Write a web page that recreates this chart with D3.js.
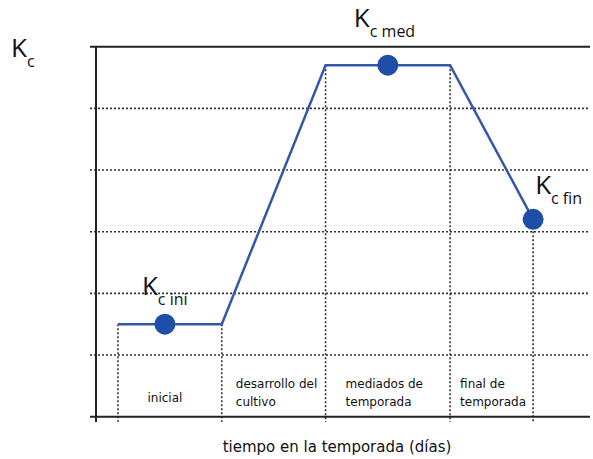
<!DOCTYPE html>
<html>
<head>
<meta charset="utf-8">
<script src="https://cdn.jsdelivr.net/npm/d3@7"></script>
<style>
  html, body { margin: 0; padding: 0; background: #fff; }
  svg { display: block; }
</style>
</head>
<body>
<svg id="chart" width="593" height="459"></svg>
<script>
// ---- data ----
const stageDays = [0, 25, 50, 80, 100];
const stageLabels = [["inicial"], ["desarrollo del", "cultivo"], ["mediados de", "temporada"], ["final de", "temporada"]];
const curveDays = [0, 25, 50, 80, 100];
const curveKc = [0.30, 0.30, 1.14, 1.14, 0.64];
const pointDays = [11.3, 65, 100];
const pointKc = [0.30, 1.14, 0.64];
const pointSub = ["c ini", "c med", "c fin"];
const yTicks = [0, 0.2, 0.4, 0.6, 0.8, 1.0, 1.2];
const yLabel = "K";
const ySub = "c";
const xTitle = "tiempo en la temporada (días)";

// ---- layout ----
const svg = d3.select("#chart");
const x = d3.scaleLinear().domain([-5.3, 113.7]).range([96, 590]);
const y = d3.scaleLinear().domain([0, 1.2]).range([416.7, 46.7]);
const lineColor = "#3457a8";
const dotColor = "#1f4ea9";
const gridColor = "#333";
const bodyFont = "'DejaVu Sans', Verdana, sans-serif";
const kFont = "'Open Sans', 'Noto Sans', sans-serif";

// horizontal grid lines (dotted), top solid
svg.append("g").selectAll("line")
  .data(yTicks.filter(d => d > 0))
  .join("line")
  .attr("x1", 90).attr("x2", 590)
  .attr("y1", d => y(d)).attr("y2", d => y(d))
  .attr("stroke", d => d === 1.2 ? "#222" : gridColor)
  .attr("stroke-width", d => d === 1.2 ? 2 : 1.6)
  .attr("stroke-dasharray", d => d === 1.2 ? null : "2,2");

// vertical dotted stage lines
const kcAt = d => {
  for (let i = 0; i < curveDays.length - 1; i++) {
    if (d >= curveDays[i] && d <= curveDays[i + 1]) {
      const t = (d - curveDays[i]) / (curveDays[i + 1] - curveDays[i]);
      return curveKc[i] + t * (curveKc[i + 1] - curveKc[i]);
    }
  }
  return curveKc[curveKc.length - 1];
};
svg.append("g").selectAll("line")
  .data(stageDays)
  .join("line")
  .attr("x1", d => x(d)).attr("x2", d => x(d))
  .attr("y1", d => y(kcAt(d))).attr("y2", 422)
  .attr("stroke", gridColor)
  .attr("stroke-width", 1.6)
  .attr("stroke-dasharray", "2,2");

// axes (y axis line and x axis line)
const yAxis = d3.axisLeft(y).tickValues([]).tickSize(0);
svg.append("g").attr("transform", "translate(96,0)").call(yAxis)
  .call(g => g.select(".domain").attr("d", `M0,${y(1.2)}V422`).attr("stroke", "#222").attr("stroke-width", 2));
const xAxis = d3.axisBottom(x).tickValues([]).tickSize(0);
svg.append("g").attr("transform", `translate(0,${y(0)})`).call(xAxis)
  .call(g => g.select(".domain").attr("d", "M90,0H590").attr("stroke", "#222").attr("stroke-width", 2));

// Kc curve
const line = d3.line().x((d, i) => x(curveDays[i])).y(d => y(d));
svg.append("path")
  .datum(curveKc)
  .attr("d", line)
  .attr("fill", "none")
  .attr("stroke", lineColor)
  .attr("stroke-width", 2.5)
  .attr("stroke-linejoin", "miter");

// points
svg.append("g").selectAll("circle")
  .data(pointDays)
  .join("circle")
  .attr("cx", d => x(d))
  .attr("cy", (d, i) => y(pointKc[i]))
  .attr("r", 10.5)
  .attr("fill", dotColor);

// K labels
function kLabel(px, py, sub, subDx, subDy) {
  const t = svg.append("text")
    .attr("x", px).attr("y", py)
    .attr("font-family", kFont)
    .attr("fill", "#111");
  t.append("tspan").attr("font-size", 26).text(yLabel);
  t.append("tspan").attr("font-size", 16).attr("dx", subDx).attr("dy", subDy).text(sub);
}
kLabel(11, 57, ySub, 0, 10);
const kOffsets = [[-23, -29], [-34, -38], [2, -25]];
pointDays.forEach((d, i) => {
  kLabel(x(d) + kOffsets[i][0], y(pointKc[i]) + kOffsets[i][1], pointSub[i], 0, 10);
});

// stage labels
const stageDx = [null, 14, 20, 10];
stageLabels.forEach((lines, i) => {
  const t = svg.append("text")
    .attr("font-family", bodyFont)
    .attr("font-size", 12)
    .attr("fill", "#111");
  if (lines.length === 1) {
    t.attr("text-anchor", "middle")
      .attr("x", (x(stageDays[i]) + x(stageDays[i + 1])) / 2 - 5)
      .attr("y", 402)
      .text(lines[0]);
  } else {
    lines.forEach((s, j) => {
      t.append("tspan")
        .attr("x", x(stageDays[i]) + stageDx[i])
        .attr("y", 388 + j * 17.5)
        .text(s);
    });
  }
});

// x title
svg.append("text")
  .attr("x", 337).attr("y", 452)
  .attr("text-anchor", "middle")
  .attr("font-family", bodyFont)
  .attr("font-size", 15)
  .attr("fill", "#111")
  .text(xTitle);
</script>
</body>
</html>
